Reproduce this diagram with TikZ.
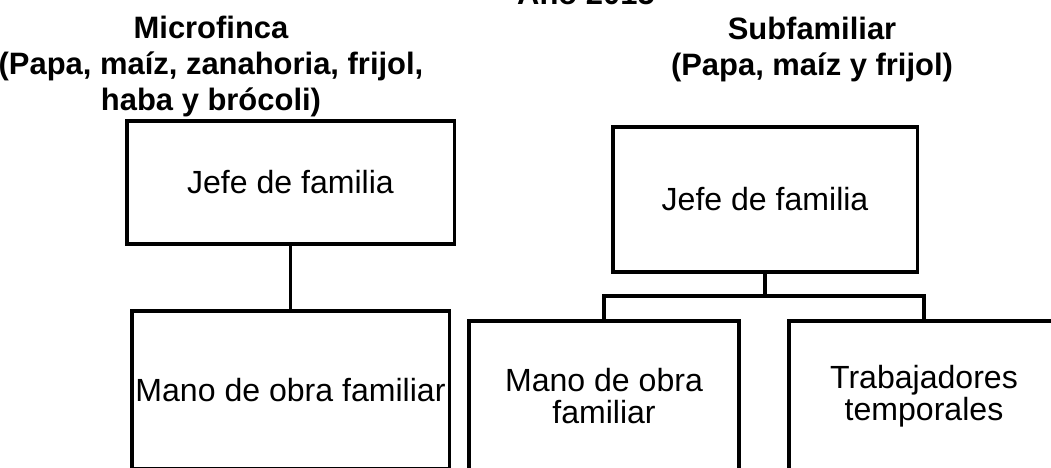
\documentclass[tikz,border=0pt]{standalone}
\usepackage{fontspec}
\setmainfont{Liberation Sans}
\begin{document}
\begin{tikzpicture}[x=0.025cm,y=-0.025cm,
    caja/.style={draw,line width=2.2pt,inner sep=2pt,align=center,font=\fontsize{22.8}{23}\selectfont},
    titulo/.style={inner sep=0pt,align=center,anchor=base,font=\fontsize{22}{25.6}\selectfont\bfseries},
    linea/.style={line width=2.2pt}]
  \useasboundingbox (0,0) rectangle (1051,467);
  % titulos (anchor base = ultima linea)
  \node[inner sep=0pt,anchor=base,font=\fontsize{22}{25.6}\selectfont\bfseries] (anio) at (586,4) {Año 2015};
  \node[titulo] (micro) at (211,110) {Microfinca\\(Papa, maíz, zanahoria, frijol,\\haba y brócoli)};
  \node[titulo] (subfam) at (812,75) {Subfamiliar\\(Papa, maíz y frijol)};
  % microfinca
  \node[caja,minimum width=8.175cm,minimum height=3.075cm] (jefeA) at (290.5,182.5) {Jefe de familia};
  \node[caja,minimum width=7.925cm,minimum height=3.95cm] (manoA) at (290.5,390) {Mano de obra familiar};
  \draw[linea] (jefeA) -- (manoA);
  % subfamiliar
  \node[caja,minimum width=7.6cm,minimum height=3.625cm] (jefeB) at (765,199.5) {Jefe de familia};
  \node[caja,minimum width=6.75cm,minimum height=3.75cm] (manoB) at (604,396) {Mano de obra\\familiar};
  \node[caja,minimum width=6.75cm,minimum height=3.75cm] (tempB) at (924,396) {Trabajadores\\temporales};
  \coordinate (bus) at (765,296);
  \draw[linea] (jefeB.south) -- (jefeB.south |- bus);
  \draw[linea] (manoB.north) -- (manoB.north |- bus) -- (tempB.north |- bus) -- (tempB.north);
\end{tikzpicture}
\end{document}
